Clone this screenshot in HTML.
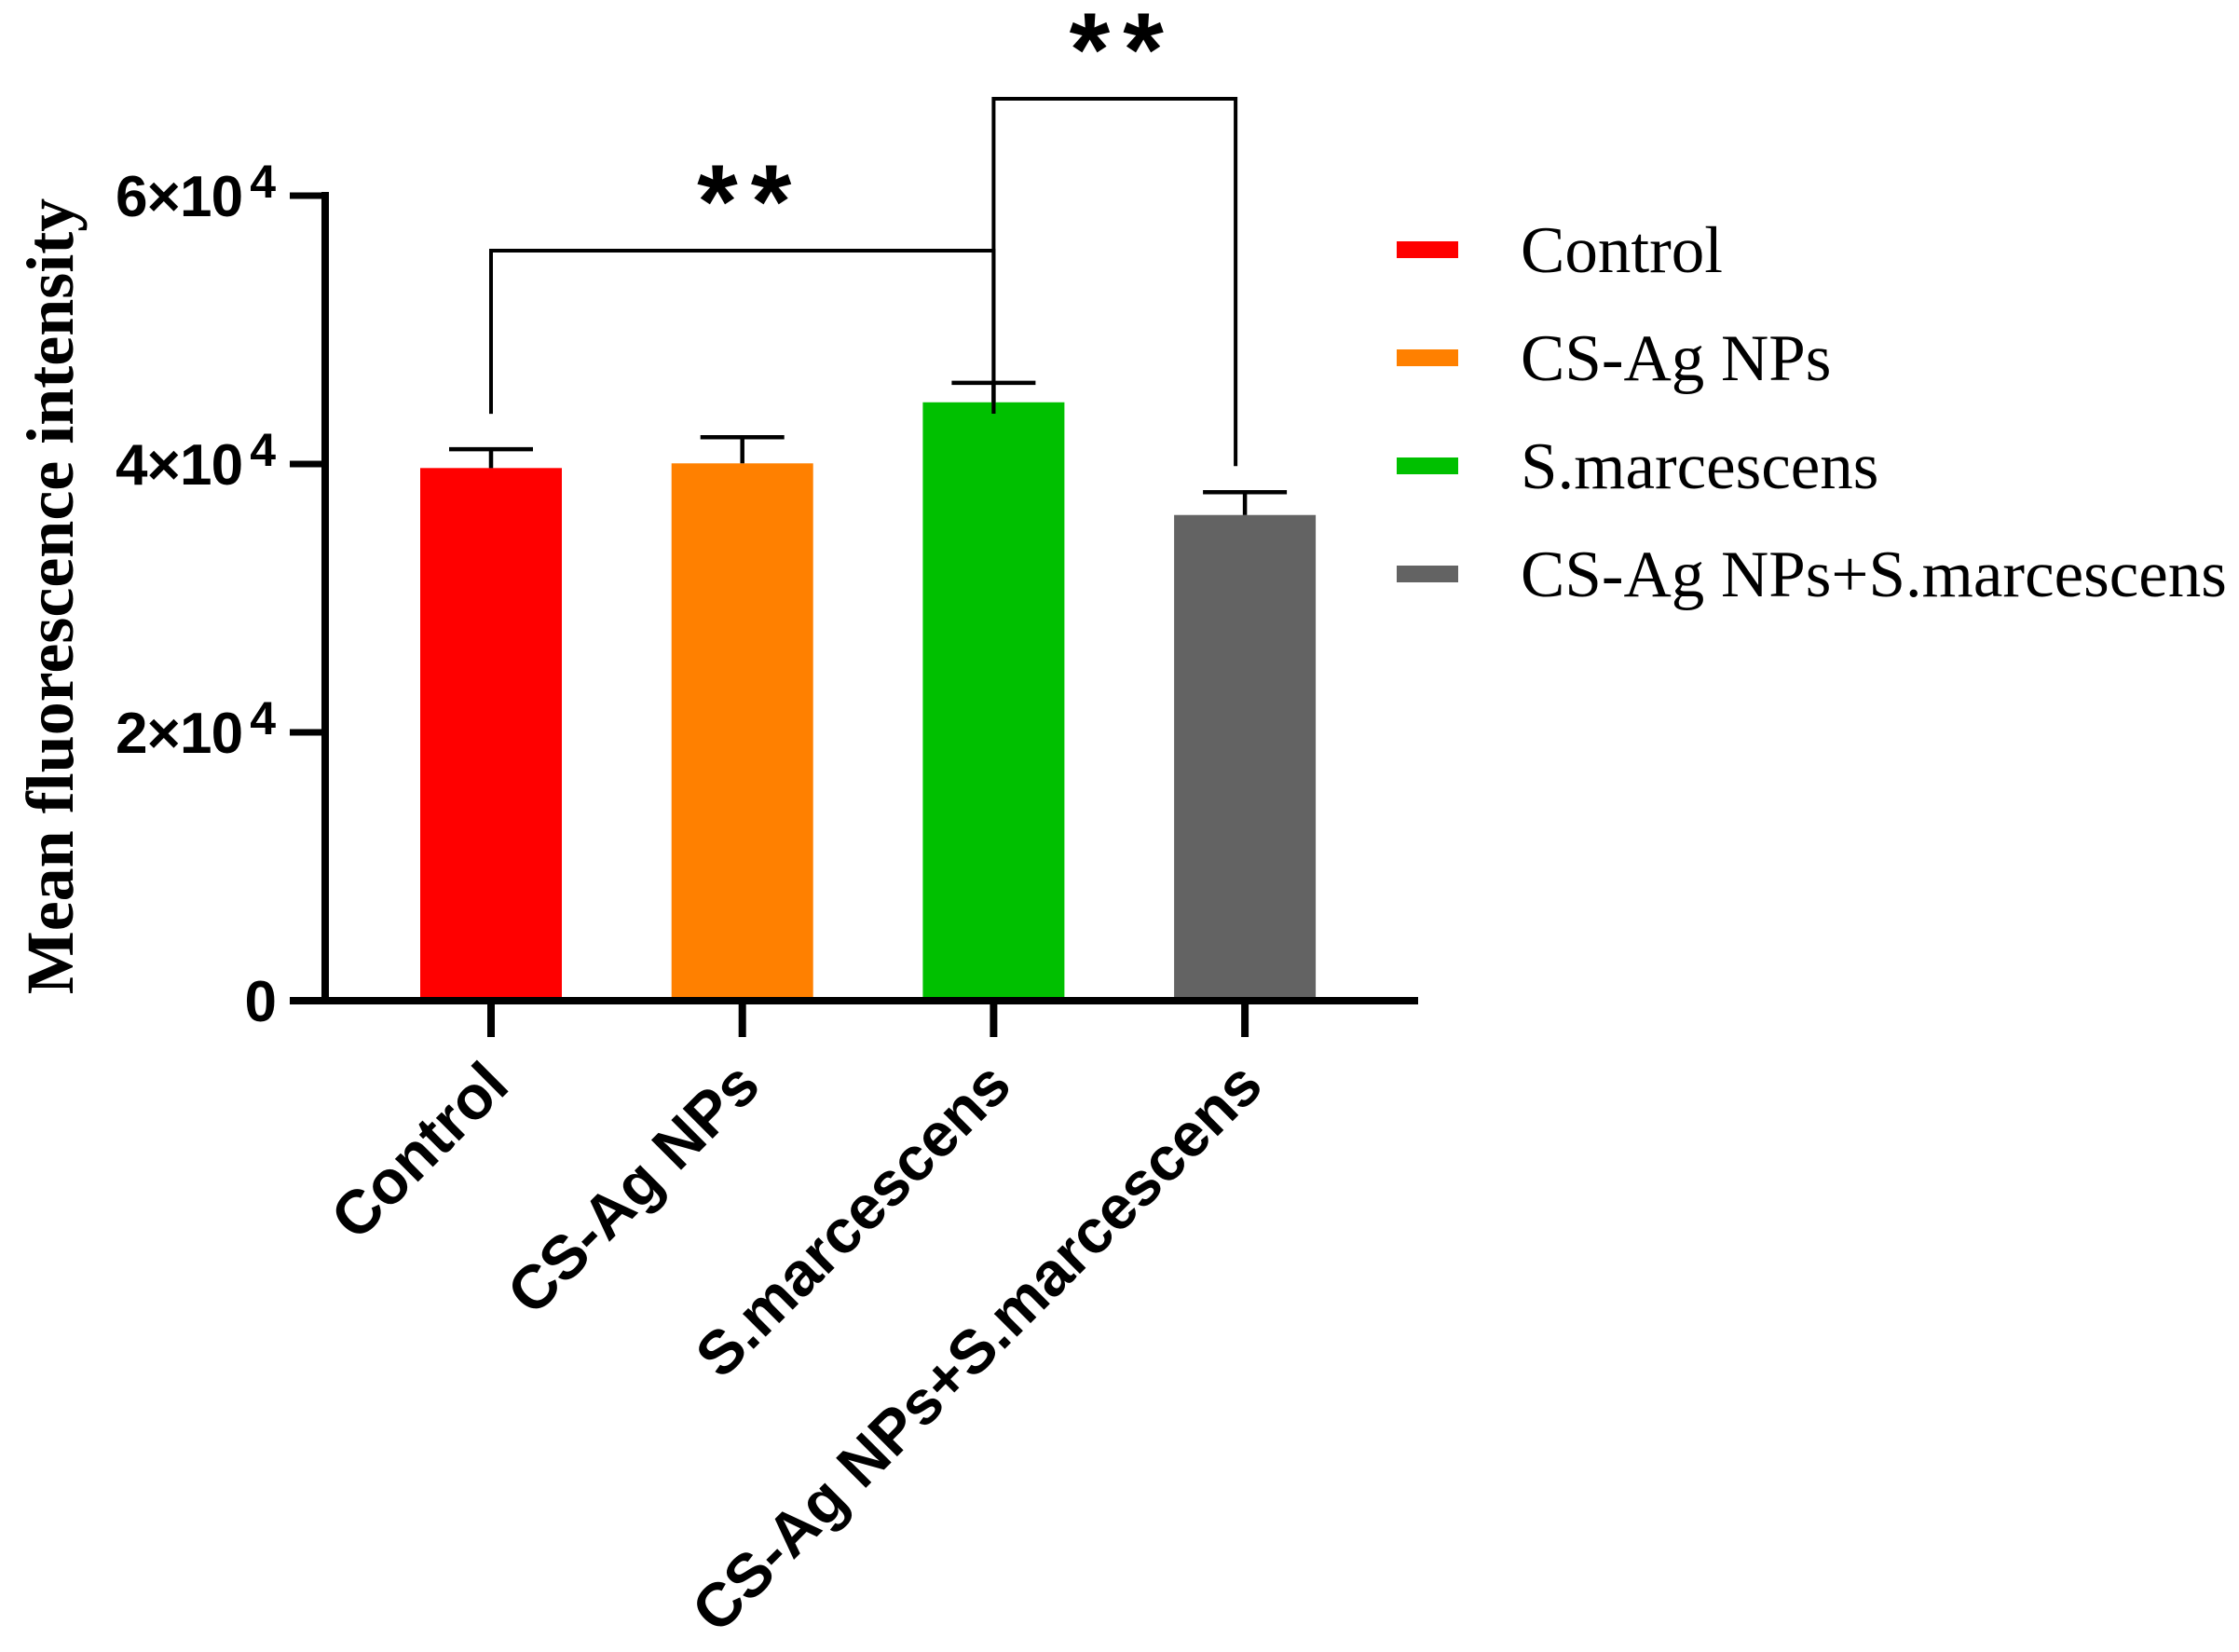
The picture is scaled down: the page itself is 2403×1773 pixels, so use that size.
<!DOCTYPE html>
<html><head><meta charset="utf-8"><style>body{margin:0;background:#fff}svg{display:block}</style></head>
<body>
<svg id="chart" width="2403" height="1773" viewBox="0 0 2403 1773" xmlns="http://www.w3.org/2000/svg">
<g id="plot"></g>
</svg>
<script>
const categories = ["Control", "CS-Ag NPs", "S.marcescens", "CS-Ag NPs+S.marcescens"];
const means = [39700, 40050, 44600, 36200];
const errors = [1400, 1950, 1450, 1700];
const colors = ["#ff0000", "#ff8000", "#00c000", "#636363"];
const yTicks = [0, 20000, 40000, 60000];
const yTickMantissa = ["0", "2", "4", "6"];
const comparisons = [[0, 2], [2, 3]];
const compLabels = ["**", "**"];

const NS = "http://www.w3.org/2000/svg";
const g = document.getElementById('plot');
const y0 = 1074, pxPer = 144 / 10000;
const yS = v => y0 - v * pxPer;
const xS = i => 527 + i * 269.7;
const barW = 152;
function mk(t, a, txt) { const e = document.createElementNS(NS, t); for (const k in a) e.setAttribute(k, a[k]); if (txt != null) e.textContent = txt; g.appendChild(e); return e; }

categories.forEach((c, i) => {
  const b = mk('rect', {x: xS(i) - barW / 2, y: yS(means[i]), width: barW, height: y0 - yS(means[i]), fill: colors[i]});
  
  
  const e = mk('path', {d: `M${xS(i)} ${yS(means[i])}V${yS(means[i] + errors[i])}M${xS(i) - 45} ${yS(means[i] + errors[i])}H${xS(i) + 45}`, stroke: '#000', 'stroke-width': 4.5, fill: 'none'});
  
  
});

const ax = mk('path', {d: `M349 206V1078M311 1074H1522`, stroke: '#000', 'stroke-width': 8, fill: 'none'});


yTicks.forEach((t, i) => {
  const tk = mk('line', {x1: 311, x2: 349, y1: yS(t), y2: yS(t), stroke: '#000', 'stroke-width': 7});
  
  
  const lb = mk('text', {x: 297, y: yS(t) + 22, 'text-anchor': 'end', 'font-family': 'Liberation Sans, Arial, sans-serif', 'font-weight': 'bold', 'font-size': 62});
  
  
  if (t === 0) lb.textContent = "0";
  else {
    lb.setAttribute('x', 124);
    lb.setAttribute('text-anchor', 'start');
    lb.setAttribute('textLength', 172);
    lb.setAttribute('lengthAdjust', 'spacing');
    const a = document.createElementNS(NS, 'tspan'); a.textContent = yTickMantissa[i] + "×10"; lb.appendChild(a);
    const s = document.createElementNS(NS, 'tspan'); s.setAttribute('font-size', 50); s.setAttribute('dy', -20); s.setAttribute('dx', 8); s.textContent = "4"; lb.appendChild(s);
  }
});
categories.forEach((c, i) => {
  const tk = mk('line', {x1: xS(i), x2: xS(i), y1: 1074, y2: 1113, stroke: '#000', 'stroke-width': 8});
  
  
  const lx = xS(i) + 22, ly = 1168;
  const lb = mk('text', {x: lx, y: ly, 'text-anchor': 'end', transform: `rotate(-45 ${lx} ${ly})`, 'font-family': 'Liberation Sans, Arial, sans-serif', 'font-weight': 'bold', 'font-size': 66}, c);
  
  
});

const yt = mk('text', {x: 78, y: 640, 'text-anchor': 'middle', transform: 'rotate(-90 78 640)', 'font-family': 'Liberation Serif, Times New Roman, serif', 'font-weight': 'bold', 'font-size': 72}, 'Mean fluorescence intensity');



const brY = [269, 106];
comparisons.forEach((cp, k) => {
  const a = cp[0], b = cp[1];
  const xa = xS(a), xb = xS(b) - (k === 1 ? 10 : 0);
  const ya = yS(means[a] + errors[a]) - 38, yb = yS(means[b] + errors[b]) - 28;
  const p = mk('path', {d: `M${xa} ${k === 1 ? 444 : ya}V${brY[k]}H${xb}V${k === 0 ? 444 : yb}`, stroke: '#000', 'stroke-width': 4, fill: 'none'});
  
  
  const s = mk('text', {x: (xa + xb) / 2 + 9, y: brY[k] - 14, 'text-anchor': 'middle', 'letter-spacing': 14, 'font-family': 'Liberation Sans, Arial, sans-serif', 'font-weight': 'bold', 'font-size': 112}, compLabels[k]);
  
  
});

const lgY = [268, 384, 500, 616];
categories.forEach((c, i) => {
  const r = mk('rect', {x: 1499, y: lgY[i] - 9, width: 66, height: 18, fill: colors[i]});
  
  
  const t = mk('text', {x: 1632, y: lgY[i] + 24, 'font-family': 'Liberation Serif, Times New Roman, serif', 'font-size': 71}, c);
  
  
});
</script>
</body></html>
